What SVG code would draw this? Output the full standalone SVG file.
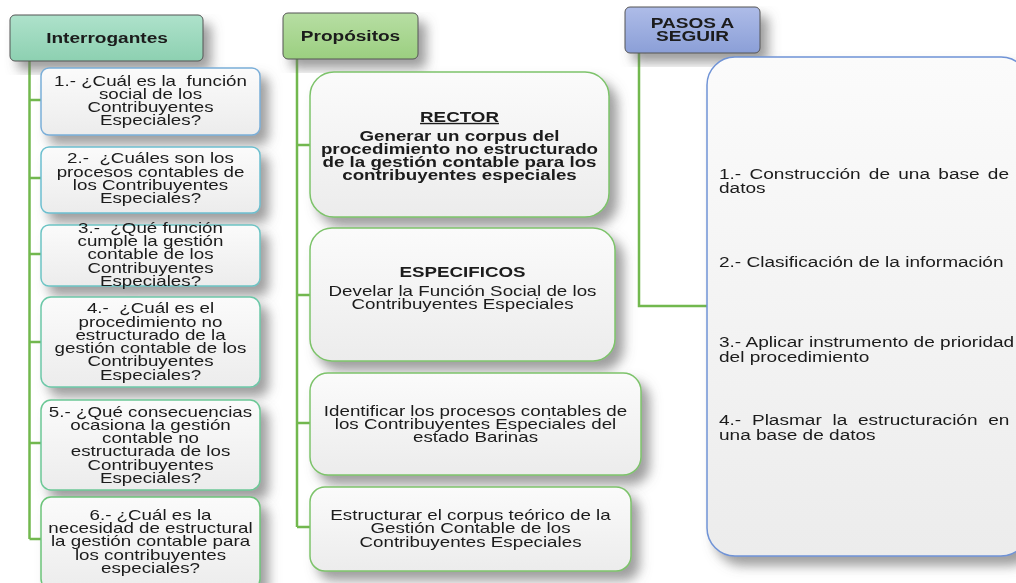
<svg xmlns="http://www.w3.org/2000/svg" width="1016" height="583" viewBox="0 0 1016 583">
<style>
text{font-family:"Liberation Sans",Arial,sans-serif;font-size:14px;fill:#1a1a1a}
.c{text-anchor:middle}
.b{font-weight:bold}
.hdr{stroke:#555;stroke-width:1}
.kid{fill:url(#gWhite);stroke-width:1.5}
.conn{stroke:#72b84e;stroke-width:2.5;fill:none}
</style>
<defs>
<linearGradient id="gWhite" x1="0" y1="0" x2="0" y2="1"><stop offset="0" stop-color="#fbfbfb"/><stop offset="1" stop-color="#ececec"/></linearGradient>
<linearGradient id="gTeal" x1="0" y1="0" x2="0" y2="1"><stop offset="0" stop-color="#aee2cb"/><stop offset="1" stop-color="#8dd0b1"/></linearGradient>
<linearGradient id="gGreen" x1="0" y1="0" x2="0" y2="1"><stop offset="0" stop-color="#b7dea3"/><stop offset="1" stop-color="#9bcf80"/></linearGradient>
<linearGradient id="gBlue" x1="0" y1="0" x2="0" y2="1"><stop offset="0" stop-color="#aebce8"/><stop offset="1" stop-color="#8b9fd7"/></linearGradient>
<filter id="sh" x="-20%" y="-20%" width="150%" height="150%">
<feGaussianBlur in="SourceAlpha" stdDeviation="6"/>
<feOffset dx="8" dy="9" result="o"/>
<feFlood flood-color="#6a6a6a" flood-opacity="0.65"/>
<feComposite in2="o" operator="in"/>
<feMerge><feMergeNode/><feMergeNode in="SourceGraphic"/></feMerge>
</filter>
</defs>
<rect width="1016" height="583" fill="#ffffff"/>

<g id="connectors">
<path class="conn" d="M29.5 61 V539 M29.5 100 H41 M29.5 178 H41 M29.5 254 H41 M29.5 342 H41 M29.5 443 H41 M29.5 539 H41"/>
<path class="conn" d="M297 59 V527 M297 145 H310 M297 295 H310 M297 423 H310 M297 527 H310"/>
<path class="conn" d="M639 53 V306 H707"/>
</g>

<g id="interrogantes" filter="url(#sh)">
<rect class="hdr" x="10" y="15" width="193" height="46" rx="5" fill="url(#gTeal)"/>
<g transform="translate(107 0) scale(1.36 1)"><text class="c b" x="0" y="43">Interrogantes</text></g>
</g>
<g id="q1" filter="url(#sh)">
<rect class="kid" x="41" y="68" width="219" height="67" rx="8" stroke="#7aaed8"/>
<g transform="translate(150.5 0) scale(1.34 1)">
<text class="c" x="0" y="86" xml:space="preserve">1.- ¿Cuál es la  función</text>
<text class="c" x="0" y="99">social de los</text>
<text class="c" x="0" y="112">Contribuyentes</text>
<text class="c" x="0" y="125">Especiales?</text>
</g>
</g>
<g id="q2" filter="url(#sh)">
<rect class="kid" x="41" y="147" width="219" height="66" rx="8" stroke="#6cbfcf"/>
<g transform="translate(150.5 0) scale(1.34 1)">
<text class="c" x="0" y="163" xml:space="preserve">2.-  ¿Cuáles son los</text>
<text class="c" x="0" y="177">procesos contables de</text>
<text class="c" x="0" y="190">los Contribuyentes</text>
<text class="c" x="0" y="203">Especiales?</text>
</g>
</g>
<g id="q3" filter="url(#sh)">
<rect class="kid" x="41" y="225" width="219" height="61" rx="8" stroke="#6cc4c4"/>
<g transform="translate(150.5 0) scale(1.34 1)">
<text class="c" x="0" y="233" xml:space="preserve">3.-  ¿Qué función</text>
<text class="c" x="0" y="246">cumple la gestión</text>
<text class="c" x="0" y="259">contable de los</text>
<text class="c" x="0" y="273">Contribuyentes</text>
<text class="c" x="0" y="286">Especiales?</text>
</g>
</g>
<g id="q4" filter="url(#sh)">
<rect class="kid" x="41" y="297" width="219" height="90" rx="10" stroke="#6cc8a8"/>
<g transform="translate(150.5 0) scale(1.34 1)">
<text class="c" x="0" y="313" xml:space="preserve">4.-  ¿Cuál es el</text>
<text class="c" x="0" y="327">procedimiento no</text>
<text class="c" x="0" y="340">estructurado de la</text>
<text class="c" x="0" y="353">gestión contable de los</text>
<text class="c" x="0" y="366">Contribuyentes</text>
<text class="c" x="0" y="380">Especiales?</text>
</g>
</g>
<g id="q5" filter="url(#sh)">
<rect class="kid" x="41" y="400" width="219" height="90" rx="10" stroke="#6cc896"/>
<g transform="translate(150.5 0) scale(1.34 1)">
<text class="c" x="0" y="417">5.- ¿Qué consecuencias</text>
<text class="c" x="0" y="430">ocasiona la gestión</text>
<text class="c" x="0" y="443">contable no</text>
<text class="c" x="0" y="456">estructurada de los</text>
<text class="c" x="0" y="470">Contribuyentes</text>
<text class="c" x="0" y="483">Especiales?</text>
</g>
</g>
<g id="q6" filter="url(#sh)">
<rect class="kid" x="41" y="497" width="219" height="92" rx="10" stroke="#6cc47a"/>
<g transform="translate(150.5 0) scale(1.34 1)">
<text class="c" x="0" y="520">6.- ¿Cuál es la</text>
<text class="c" x="0" y="533">necesidad de estructural</text>
<text class="c" x="0" y="546">la gestión contable para</text>
<text class="c" x="0" y="560">los contribuyentes</text>
<text class="c" x="0" y="573">especiales?</text>
</g>
</g>

<g id="propositos" filter="url(#sh)">
<rect class="hdr" x="283" y="13" width="135" height="46" rx="5" fill="url(#gGreen)"/>
<g transform="translate(350.5 0) scale(1.36 1)"><text class="c b" x="0" y="41">Propósitos</text></g>
</g>
<g id="rector" filter="url(#sh)">
<rect class="kid" x="310" y="72" width="299" height="145" rx="24" stroke="#7dc36b"/>
<g transform="translate(459.5 0) scale(1.34 1)">
<text class="c b" x="0" y="122" text-decoration="underline">RECTOR</text>
<text class="c b" x="0" y="141">Generar un corpus del</text>
<text class="c b" x="0" y="154">procedimiento no estructurado</text>
<text class="c b" x="0" y="167">de la gestión contable para los</text>
<text class="c b" x="0" y="180">contribuyentes especiales</text>
</g>
</g>
<g id="especificos" filter="url(#sh)">
<rect class="kid" x="310" y="228" width="305" height="133" rx="22" stroke="#7dc36b"/>
<g transform="translate(462.5 0) scale(1.34 1)">
<text class="c b" x="0" y="277">ESPECIFICOS</text>
<text class="c" x="0" y="296">Develar la Función Social de los</text>
<text class="c" x="0" y="309">Contribuyentes Especiales</text>
</g>
</g>
<g id="identificar" filter="url(#sh)">
<rect class="kid" x="310" y="373" width="331" height="102" rx="18" stroke="#7dc36b"/>
<g transform="translate(475.5 0) scale(1.34 1)">
<text class="c" x="0" y="416">Identificar los procesos contables de</text>
<text class="c" x="0" y="429">los Contribuyentes Especiales del</text>
<text class="c" x="0" y="442">estado Barinas</text>
</g>
</g>
<g id="estructurar" filter="url(#sh)">
<rect class="kid" x="310" y="487" width="321" height="84" rx="15" stroke="#7dc36b"/>
<g transform="translate(470.5 0) scale(1.34 1)">
<text class="c" x="0" y="520">Estructurar el corpus teórico de la</text>
<text class="c" x="0" y="533">Gestión Contable de los</text>
<text class="c" x="0" y="547">Contribuyentes Especiales</text>
</g>
</g>

<g id="pasos" filter="url(#sh)">
<rect class="hdr" x="625" y="7" width="135" height="46" rx="5" fill="url(#gBlue)"/>
<g transform="translate(692.5 0) scale(1.36 1)">
<text class="c b" x="0" y="28">PASOS A</text>
<text class="c b" x="0" y="41">SEGUIR</text>
</g>
</g>
<g id="pasos-lista" filter="url(#sh)">
<rect class="kid" x="707" y="57" width="322" height="499" rx="28" stroke="#6f93d6"/>
<g transform="translate(719 0) scale(1.36 1)">
<text x="0" y="179" word-spacing="2.2">1.- Construcción de una base de</text>
<text x="0" y="193">datos</text>
<text x="0" y="267">2.- Clasificación de la información</text>
<text x="0" y="347">3.- Aplicar instrumento de prioridad</text>
<text x="0" y="362">del procedimiento</text>
<text x="0" y="425" word-spacing="4.0">4.- Plasmar la estructuración en</text>
<text x="0" y="440">una base de datos</text>
</g>
</g>
</svg>
